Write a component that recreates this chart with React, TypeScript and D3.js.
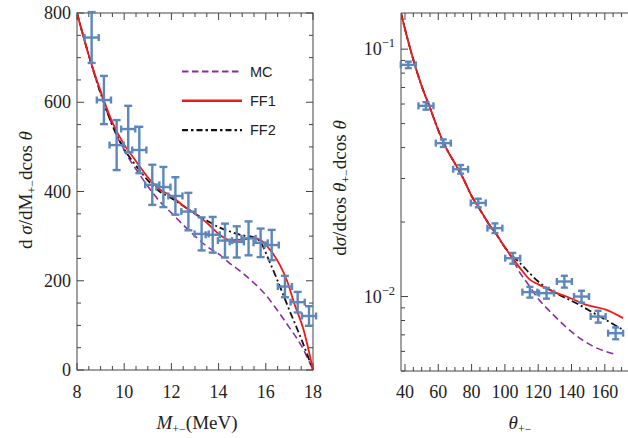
import React from "react";
import * as d3 from "d3";

// ---------- Left panel data ----------
const massPts = [8.62, 9.14, 9.68, 10.17, 10.64, 11.19, 11.66, 12.17, 12.72, 13.28, 13.75, 14.27, 14.77, 15.27, 15.78, 16.25, 16.81, 17.35, 17.83];
const massVals = [745, 605, 504, 540, 493, 415, 410, 390, 355, 305, 303, 290, 287, 295, 285, 280, 187, 152, 121];
const massErr = [57, 54, 56, 52, 52, 45, 45, 42, 42, 37, 40, 38, 35, 38, 32, 34, 24, 23, 22];
const massXErr = 0.3;

const mcMassX = [8, 8.5, 9, 9.5, 10, 10.5, 11, 11.5, 12, 12.5, 13, 13.5, 14, 14.5, 15, 15.5, 16, 16.5, 17, 17.5, 18];
const mcMassY = [800, 705, 620, 548, 492, 450, 412, 378, 352, 325, 300, 277, 260, 238, 218, 195, 168, 133, 95, 55, 0];
const ff1MassX = [8, 8.5, 9, 9.5, 10, 10.5, 11, 11.5, 12, 12.5, 13, 13.5, 14, 14.5, 15, 15.5, 15.8, 16.2, 16.6, 16.9, 17.2, 17.6, 18];
const ff1MassY = [800, 705, 625, 555, 505, 468, 432, 405, 390, 368, 350, 330, 305, 291, 292, 296, 290, 268, 235, 200, 150, 90, 0];
const ff2MassX = [8, 8.5, 9, 9.5, 10, 10.5, 11, 11.5, 12, 12.5, 13, 13.5, 14, 14.5, 15, 15.5, 15.8, 16.1, 16.5, 17, 17.5, 18];
const ff2MassY = [800, 705, 620, 548, 495, 458, 425, 400, 385, 368, 350, 335, 320, 310, 302, 297, 285, 250, 200, 134, 70, 0];

const massTicks = [8, 10, 12, 14, 16, 18];
const massYTicks = [0, 200, 400, 600, 800];

// ---------- Right panel data ----------
const angPts = [42, 52.6, 63, 73.4, 84, 94, 104.7, 115, 125, 135.7, 146, 156, 166.5];
const angVals = [0.0864, 0.059, 0.0417, 0.0327, 0.0239, 0.0189, 0.01429, 0.01042, 0.01032, 0.0115, 0.01, 0.0083, 0.00711];
const angRelErr = [0.03, 0.035, 0.035, 0.04, 0.04, 0.045, 0.05, 0.05, 0.05, 0.055, 0.055, 0.055, 0.055];
const angXErr = 4.5;

const commonAngX = [37.6, 42, 46, 50, 55, 60, 65, 70, 75, 80, 85, 90, 95, 100];
const commonAngY = [0.14, 0.107, 0.086, 0.071, 0.058, 0.047, 0.0395, 0.0345, 0.03, 0.0255, 0.0225, 0.0198, 0.0178, 0.0158];
const mcAngX = [105, 109, 114, 119, 129, 141, 153, 166];
const mcAngY = [0.014, 0.01249, 0.0112, 0.01, 0.00845, 0.00711, 0.00629, 0.00585];
const ff1AngX = [105, 110, 115, 120, 125, 130, 137, 149, 161, 171];
const ff1AngY = [0.0142, 0.0128, 0.0117, 0.0112, 0.0108, 0.0104, 0.01, 0.00925, 0.00883, 0.00818];
const ff2AngX = [105, 109, 115, 120, 129, 143, 155, 170];
const ff2AngY = [0.0145, 0.01368, 0.0124, 0.0115, 0.01047, 0.00939, 0.00845, 0.0074];

const angTicks = [40, 60, 80, 100, 120, 140, 160];

const legendItems = ["MC", "FF1", "FF2"];

const BLUE = "#5b87bd";
const RED = "#f01818";
const PURPLE = "#8b2c9e";
const BLACK = "#111";
const FRAME = "#444";
const SERIF = "'Liberation Serif', 'DejaVu Serif', serif";
const SANS = "'Liberation Sans', Arial, sans-serif";

function zip(xs: number[], ys: number[]): [number, number][] {
  return xs.map((x, i) => [x, ys[i]]);
}

export default function App() {
  const lx = d3.scaleLinear().domain([8, 18]).range([77, 313]);
  const ly = d3.scaleLinear().domain([0, 800]).range([370, 13]);
  const rx = d3.scaleLinear().domain([37.6, 180]).range([401, 638.1]);
  const ry = d3.scaleLog().domain([0.005, 0.14]).range([371, 13]);

  const lLine = d3.line<[number, number]>().x((d) => lx(d[0])).y((d) => ly(d[1])).curve(d3.curveMonotoneX);
  const rLine = d3.line<[number, number]>().x((d) => rx(d[0])).y((d) => ry(d[1])).curve(d3.curveMonotoneX);

  const common = zip(commonAngX, commonAngY);

  const lxMinor = d3.range(8, 18.001, 0.5);
  const lyMinor = d3.range(0, 800.001, 50);
  const rxMinor = d3.range(40, 180, 5);
  const ryMinor: number[] = [];
  [0.001, 0.01, 0.1].forEach((dec) => {
    for (let k = 1; k <= 9; k++) {
      const v = dec * k;
      if (v >= 0.005 && v <= 0.14) ryMinor.push(v);
    }
  });

  const tickStroke = { stroke: FRAME, strokeWidth: 1 };
  const MAJ = 7;
  const MIN = 4;

  const lsty = { fontFamily: SERIF, fontSize: 18, fill: "#222" };

  return (
    <svg width={628} height={438} style={{ position: "absolute", left: 0, top: 0, background: "#fff" }}>
      <defs>
        <clipPath id="rclip">
          <rect x={401} y={13} width={240} height={358} />
        </clipPath>
        <clipPath id="lclip">
          <rect x={77} y={10} width={240} height={362} />
        </clipPath>
      </defs>
      <rect width={628} height={438} fill="#fff" />

      {/* ---------- LEFT PANEL ---------- */}
      <g>
        <rect x={77} y={13} width={236} height={357} fill="none" stroke={FRAME} strokeWidth={1} />
        {lxMinor.map((t, i) => {
          const major = Math.abs(t - Math.round(t / 2) * 2) < 1e-6;
          const len = major ? MAJ : MIN;
          return (
            <g key={"lxt" + i}>
              <line x1={lx(t)} x2={lx(t)} y1={370} y2={370 - len} {...tickStroke} />
              <line x1={lx(t)} x2={lx(t)} y1={13} y2={13 + len} {...tickStroke} />
            </g>
          );
        })}
        {lyMinor.map((t, i) => {
          const major = t % 200 === 0;
          const len = major ? MAJ : MIN;
          return (
            <g key={"lyt" + i}>
              <line x1={77} x2={77 + len} y1={ly(t)} y2={ly(t)} {...tickStroke} />
              <line x1={313} x2={313 - len} y1={ly(t)} y2={ly(t)} {...tickStroke} />
            </g>
          );
        })}
        {massTicks.map((t) => (
          <text key={"lxl" + t} x={lx(t)} y={398} textAnchor="middle" {...lsty}>
            {t}
          </text>
        ))}
        {massYTicks.map((t) => (
          <text key={"lyl" + t} x={71} y={ly(t) + 6} textAnchor="end" {...lsty}>
            {t}
          </text>
        ))}

        <g clipPath="url(#lclip)" fill="none">
          <path d={lLine(zip(mcMassX, mcMassY)) || ""} stroke={PURPLE} strokeWidth={1.6} strokeDasharray="7,4" />
          <path d={lLine(zip(ff2MassX, ff2MassY)) || ""} stroke={BLACK} strokeWidth={1.8} strokeDasharray="7,3,2,3" />
          <path d={lLine(zip(ff1MassX, ff1MassY)) || ""} stroke={RED} strokeWidth={1.8} />
        </g>

        <g stroke={BLUE} strokeWidth={2.4} fill="none" strokeLinecap="butt">
          {massPts.map((m, i) => {
            const cx = lx(m);
            const cy = ly(massVals[i]);
            const y1 = ly(massVals[i] + massErr[i]);
            const y2 = ly(massVals[i] - massErr[i]);
            const x1 = lx(m - massXErr);
            const x2 = lx(m + massXErr);
            return (
              <g key={"lp" + i}>
                <line x1={cx} x2={cx} y1={y1} y2={y2} />
                <line x1={cx - 4} x2={cx + 4} y1={y1} y2={y1} />
                <line x1={cx - 4} x2={cx + 4} y1={y2} y2={y2} />
                <line x1={x1} x2={x2} y1={cy} y2={cy} />
                <line x1={x1} x2={x1} y1={cy - 3.5} y2={cy + 3.5} />
                <line x1={x2} x2={x2} y1={cy - 3.5} y2={cy + 3.5} />
              </g>
            );
          })}
        </g>

        {legendItems.map((name, i) => {
          const y = 71.5 + i * 29.3;
          const stroke = i === 0 ? PURPLE : i === 1 ? RED : BLACK;
          const dash = i === 0 ? "6.5,3.5" : i === 1 ? undefined : "6,3,2.5,3";
          return (
            <g key={"lg" + name}>
              <line x1={182} x2={242} y1={y} y2={y} stroke={stroke} strokeWidth={i === 1 ? 2.6 : 2.2} strokeDasharray={dash} />
              <text x={250} y={y + 5} fontFamily={SANS} fontSize={14.5} fill="#222">
                {name}
              </text>
            </g>
          );
        })}

        <text x={197} y={429} textAnchor="middle" fontFamily={SERIF} fontSize={19} fill="#222">
          <tspan fontStyle="italic">M</tspan>
          <tspan fontSize={12} dy={3.5}>+−</tspan>
          <tspan dy={-3.5}>(MeV)</tspan>
        </text>
        <text transform="translate(32,190) rotate(-90)" textAnchor="middle" fontFamily={SERIF} fontSize={19} fill="#222">
          <tspan>d </tspan>
          <tspan fontStyle="italic">σ</tspan>
          <tspan>/dM</tspan>
          <tspan fontSize={12} dy={4}>+−</tspan>
          <tspan dy={-4}>dcos </tspan>
          <tspan fontStyle="italic">θ</tspan>
        </text>
      </g>

      {/* ---------- RIGHT PANEL ---------- */}
      <g>
        <line x1={401} x2={401} y1={13} y2={371} stroke={FRAME} strokeWidth={1} />
        <line x1={401} x2={640} y1={371} y2={371} stroke={FRAME} strokeWidth={1} />
        <line x1={401} x2={640} y1={13} y2={13} stroke={FRAME} strokeWidth={1} />
        {rxMinor.map((t, i) => {
          const major = t % 20 === 0;
          const len = major ? MAJ : MIN;
          return (
            <g key={"rxt" + i}>
              <line x1={rx(t)} x2={rx(t)} y1={371} y2={371 - len} {...tickStroke} />
              <line x1={rx(t)} x2={rx(t)} y1={13} y2={13 + len} {...tickStroke} />
            </g>
          );
        })}
        {ryMinor.map((t, i) => {
          const major = Math.abs(Math.log10(t) - Math.round(Math.log10(t))) < 1e-6;
          const len = major ? MAJ : MIN;
          return <line key={"ryt" + i} x1={401} x2={401 + len} y1={ry(t)} y2={ry(t)} {...tickStroke} />;
        })}
        {angTicks.map((t) => (
          <text key={"rxl" + t} x={rx(t)} y={398} textAnchor="middle" {...lsty}>
            {t}
          </text>
        ))}
        {[0.1, 0.01].map((t) => (
          <text key={"ryl" + t} x={395} y={ry(t) + 6} textAnchor="end" {...lsty}>
            <tspan>10</tspan>
            <tspan fontSize={12.5} dy={-8}>{t === 0.1 ? "−1" : "−2"}</tspan>
          </text>
        ))}

        <g clipPath="url(#rclip)" fill="none">
          <path d={rLine(common.concat(zip(mcAngX, mcAngY))) || ""} stroke={PURPLE} strokeWidth={1.6} strokeDasharray="7,4" />
          <path d={rLine(common.concat(zip(ff2AngX, ff2AngY))) || ""} stroke={BLACK} strokeWidth={1.8} strokeDasharray="7,3,2,3" />
          <path d={rLine(common.concat(zip(ff1AngX, ff1AngY))) || ""} stroke={RED} strokeWidth={1.8} />
        </g>

        <g stroke={BLUE} strokeWidth={2.4} fill="none">
          {angPts.map((a, i) => {
            const cx = rx(a);
            const v = angVals[i];
            const cy = ry(v);
            const y1 = ry(v * (1 + angRelErr[i]));
            const y2 = ry(v * (1 - angRelErr[i]));
            const x1 = rx(a - angXErr);
            const x2 = rx(a + angXErr);
            return (
              <g key={"rp" + i}>
                <line x1={cx} x2={cx} y1={y1} y2={y2} />
                <line x1={cx - 3.5} x2={cx + 3.5} y1={y1} y2={y1} />
                <line x1={cx - 3.5} x2={cx + 3.5} y1={y2} y2={y2} />
                <line x1={x1} x2={x2} y1={cy} y2={cy} />
                <line x1={x1} x2={x1} y1={cy - 3.5} y2={cy + 3.5} />
                <line x1={x2} x2={x2} y1={cy - 3.5} y2={cy + 3.5} />
              </g>
            );
          })}
        </g>

        <text x={520} y={429} textAnchor="middle" fontFamily={SERIF} fontSize={19} fill="#222">
          <tspan fontStyle="italic">θ</tspan>
          <tspan fontSize={12} dy={3.5}>+−</tspan>
        </text>
        <text transform="translate(346,188) rotate(-90)" textAnchor="middle" fontFamily={SERIF} fontSize={19} fill="#222">
          <tspan>d</tspan>
          <tspan fontStyle="italic">σ</tspan>
          <tspan>/dcos </tspan>
          <tspan fontStyle="italic">θ</tspan>
          <tspan fontSize={12} dy={4}>+−</tspan>
          <tspan dy={-4}>dcos </tspan>
          <tspan fontStyle="italic">θ</tspan>
        </text>
      </g>
    </svg>
  );
}
